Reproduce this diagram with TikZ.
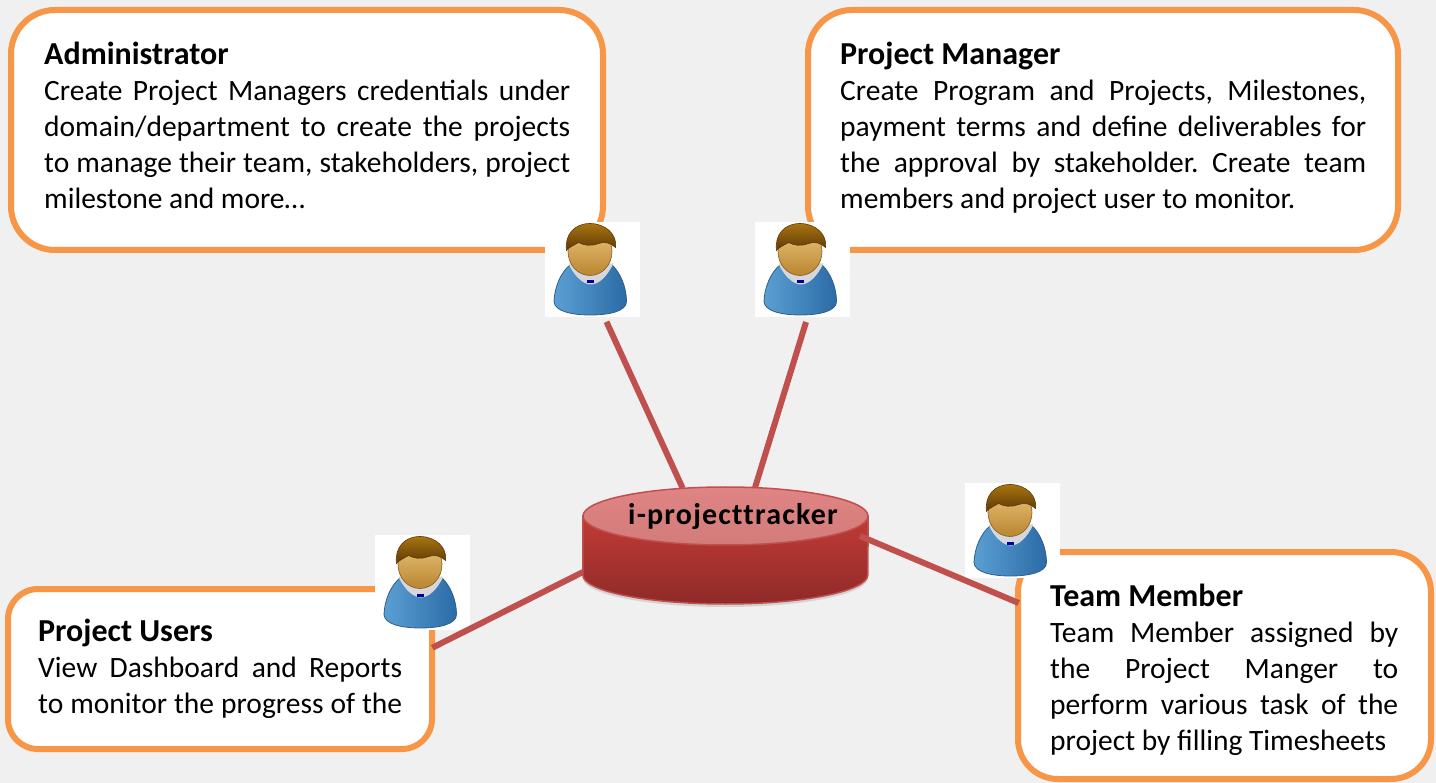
\documentclass[tikz,border=0pt]{standalone}
\usepackage{fontspec}
\setmainfont{Carlito}
\usetikzlibrary{shapes.geometric,shadows}

\definecolor{pagegray}{HTML}{F0F0F0}
\definecolor{boxorange}{HTML}{F79646}
\definecolor{linkred}{HTML}{C0504D}
\definecolor{hubtop}{HTML}{C23B36}
\definecolor{hubbottom}{HTML}{8E2A28}
\definecolor{hublight}{HTML}{E08484}
\definecolor{hubpale}{HTML}{D27C7A}
\definecolor{shirtlight}{HTML}{5A9FD4}
\definecolor{shirtdark}{HTML}{2C6BA6}
\definecolor{shirtline}{HTML}{2F5F85}
\definecolor{facelight}{HTML}{EBC67C}
\definecolor{facedark}{HTML}{B98530}
\definecolor{hairlight}{HTML}{A87510}
\definecolor{hairdark}{HTML}{5E3706}

\tikzset{
  infobox/.style={draw=boxorange,line width=6pt,fill=white,rounded corners=#1,inner sep=0pt},
  infotext/.style={anchor=north west,inner sep=0pt,align=justify,font=\frenchspacing\fontsize{29.5}{36}\selectfont},
  link/.style={draw=linkred,line width=6pt},
  userbox/.style={fill=white,minimum width=95pt,minimum height=95pt,inner sep=0pt},
  pics/person/.style={code={
    % body
    \draw[draw=shirtline,line width=.8pt,left color=shirtlight,right color=shirtdark]
      (-22,-5) .. controls (-32,3) and (-38,18) .. (-38.5,32) .. controls (-38,42) and (-20,45.5) .. (-2,45.5)
      .. controls (16,45.5) and (34,42) .. (34,32) .. controls (34,18) and (28,3) .. (19,-5) -- cycle;
    % collar
    \fill[blue!8!gray!30] (-24,-6) .. controls (-18,8) and (-8,15) .. (-2,15) .. controls (6,15) and (14,8) .. (21,-6) -- cycle;
    \fill[blue!60!black] (-6,11) rectangle (1,14);
    % head
    \draw[draw=facedark!70!black,line width=.6pt,top color=facelight,bottom color=facedark]
      (-2.5,-18) ellipse (22 and 24);
    % hair
    \draw[draw=hairdark,line width=.6pt,top color=hairlight,bottom color=hairdark]
      (-26,-19) .. controls (-28,-35) and (-18,-46) .. (-2.5,-46) .. controls (13,-46) and (25,-35) .. (23,-22)
      .. controls (18,-27) and (12,-28) .. (6,-26) .. controls (-2,-23) and (-8,-24) .. (-14,-27)
      .. controls (-19,-24) and (-24,-22) .. (-26,-19) -- cycle;
  }},
}

\newcommand{\infotitle}[1]{{\bfseries\fontsize{32}{36}\selectfont #1}\\}

\begin{document}
\begin{tikzpicture}[x=1pt,y=-1pt]
  \fill[pagegray] (0,0) rectangle (1436,783);
  \useasboundingbox (0,0) rectangle (1436,783);

  % boxes
  \node[infobox=44pt,minimum width=592pt,minimum height=240pt] (adminbox) at (307,130) {};
  \node[infobox=44pt,minimum width=590pt,minimum height=240pt] (managerbox) at (1103,130) {};
  \node[infobox=30pt,minimum width=424pt,minimum height=160pt] (usersbox) at (220,669) {};
  \node[infobox=40pt,minimum width=413pt,minimum height=227pt] (teambox) at (1224.5,665.5) {};

  % texts
  \node[infotext,text width=526pt] (admintext) at (44,42) {\infotitle{Administrator}
    Create Project Managers credentials under\linebreak
    domain/department to create the projects\linebreak
    to manage their team, stakeholders, project\linebreak
    milestone and more\ldots};
  \node[infotext,text width=526pt] (managertext) at (840,42) {\infotitle{Project Manager}
    Create Program and Projects, Milestones,\linebreak
    payment terms and define deliverables for\linebreak
    the approval by stakeholder. Create team\linebreak
    members and project user to monitor.};
  \node[infotext,text width=364pt] (userstext) at (38,619) {\infotitle{Project Users}
    View Dashboard and Reports\linebreak
    to monitor the progress of the\linebreak};
  \node[infotext,text width=348pt] (teamtext) at (1050,584) {\infotitle{Team Member}
    Team Member assigned by\linebreak
    the Project Manger to\linebreak
    perform various task of the\linebreak
    project by filling Timesheets};

  % users
  \node[userbox] (adminuser) at (592.5,269.5) {};
  \node[userbox] (manageruser) at (802.5,269.5) {};
  \node[userbox] (projectuser) at (422.5,582.5) {};
  \node[userbox] (teamuser) at (1012.5,530.5) {};
  \pic at (adminuser) {person};
  \pic at (manageruser) {person};
  \pic at (projectuser) {person};
  \pic at (teamuser) {person};

  % hub
  \node[ellipse,minimum width=285pt,minimum height=58pt,inner sep=0pt] (hub) at (725.5,516) {};
  \coordinate (hubleft) at (583,572);
  \coordinate (hubright) at (860,536);

  \draw[link,shorten <=5pt] (adminuser.-76.6) -- (hub.147.6);
  \draw[link,shorten <=5pt] (manageruser.-84) -- (hub.44);
  \draw[link,shorten >=-3pt] (hubleft) -- (usersbox.6.5);

  \path[draw=linkred,line width=1.5pt,top color=hubtop,bottom color=hubbottom,drop shadow={opacity=.25,shadow xshift=0pt,shadow yshift=-3pt}]
    (hub.west) -- ++(0,59) arc[start angle=180,end angle=360,x radius=142.5pt,y radius=29pt] -- (hub.east) -- cycle;
  \node[draw=linkred,line width=1.5pt,top color=hublight,bottom color=hubpale,ellipse,minimum width=285pt,minimum height=58pt,inner sep=0pt] (huboval) at (hub) {};
  \node[inner sep=0pt,font=\bfseries\fontsize{30}{34}\selectfont] (hublabel) at (733,517) {\addfontfeature{LetterSpace=4,Ligatures=NoCommon}i-projecttracker};

  \draw[link,shorten >=-4pt] (hubright) -- (teambox.163.9);
\end{tikzpicture}
\end{document}
